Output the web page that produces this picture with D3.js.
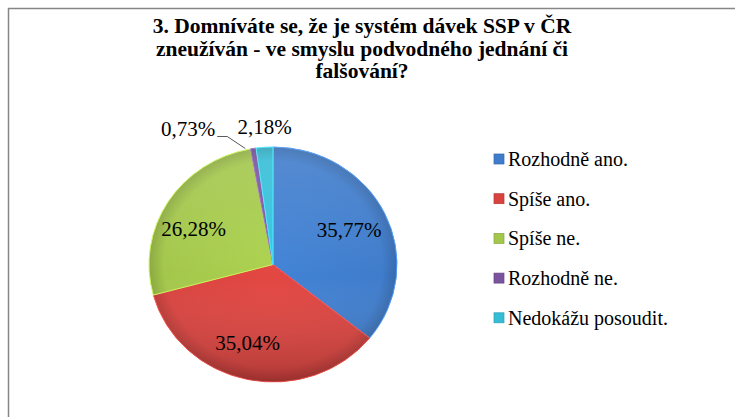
<!DOCTYPE html>
<html>
<head>
<meta charset="utf-8">
<script src="https://cdn.jsdelivr.net/npm/d3@7"></script>
</head>
<body style="margin:0">
<div id="c"></div>
<script>
const titleLines = ["3. Domníváte se, že je systém dávek SSP v ČR", "zneužíván - ve smyslu podvodného jednání či", "falšování?"];
const categories = ["Rozhodně ano.", "Spíše ano.", "Spíše ne.", "Rozhodně ne.", "Nedokážu posoudit."];
const values = [35.77, 35.04, 26.28, 0.73, 2.18];
const valueLabels = ["35,77%", "35,04%", "26,28%", "0,73%", "2,18%"];
const colors = ["#3f7ccb", "#d8433f", "#a3c74b", "#7b539e", "#35bdd6"];

const FONT = "'Liberation Serif', 'Times New Roman', serif";
const W = 735, H = 417;
const svg = d3.select("#c").append("svg").attr("width", W).attr("height", H)
    .style("font-family", FONT, "important");

// frame (only top/left edges visible in the crop)
svg.append("rect")
    .attr("x", 8.5).attr("y", 8.5)
    .attr("width", W + 20).attr("height", H + 20)
    .attr("fill", "#fff").attr("stroke", "#868686").attr("stroke-width", 1.5);

// title
svg.selectAll("text.title").data(titleLines).enter().append("text")
    .attr("class", "title")
    .attr("x", 362)
    .attr("y", function(d, i) { return 33 + i * 22.7; })
    .attr("text-anchor", "middle")
    .style("font-family", FONT, "important")
    .attr("font-weight", "bold")
    .attr("font-size", 21.5)
    .attr("fill", "#000")
    .text(function(d) { return d; });

let cx = 273, cy = 264.5, rx = 124, ry = 117.5;
let sy = ry / rx;

let defs = svg.append("defs");
colors.forEach(function(c, i) {
  let g = defs.append("radialGradient").attr("id", "grad" + i)
    .attr("gradientUnits", "userSpaceOnUse")
    .attr("cx", 0).attr("cy", 0).attr("r", rx);
  g.append("stop").attr("offset", "0%").attr("stop-color", d3.color(c).brighter(0.15));
  g.append("stop").attr("offset", "88%").attr("stop-color", c);
  g.append("stop").attr("offset", "100%").attr("stop-color", d3.color(c).darker(0.45));
});
let shade = defs.append("linearGradient").attr("id", "shade")
  .attr("x1", 0).attr("y1", 0).attr("x2", 0).attr("y2", 1);
shade.append("stop").attr("offset", "0%").attr("stop-color", "#fff").attr("stop-opacity", 0.12);
shade.append("stop").attr("offset", "55%").attr("stop-color", "#fff").attr("stop-opacity", 0);
shade.append("stop").attr("offset", "100%").attr("stop-color", "#000").attr("stop-opacity", 0.18);

let pie = d3.pie().sort(null).value(function(d) { return d; });
let arcs = pie(values);
let arc = d3.arc().innerRadius(0).outerRadius(rx);

let g = svg.append("g").attr("transform", "translate(" + cx + "," + cy + ") scale(1," + sy + ")");
g.selectAll("path.slice").data(arcs).enter().append("path")
    .attr("class", "slice")
    .attr("d", arc)
    .attr("fill", function(d, i) { return "url(#grad" + i + ")"; })
    .attr("stroke", function(d, i) { return d3.color(colors[i]).brighter(0.6); })
    .attr("stroke-width", 1)
    .attr("vector-effect", "non-scaling-stroke");
g.append("circle").attr("r", rx).attr("fill", "url(#shade)");

// labels inside
let labelArc = d3.arc().innerRadius(rx * 0.68).outerRadius(rx * 0.68);
let inside = arcs.filter(function(d) { return d.value > 5; });
svg.append("g").selectAll("text").data(inside).enter().append("text")
    .attr("x", function(d) { return cx + labelArc.centroid(d)[0] - (d.index === 0 ? 0 : 8); })
    .attr("y", function(d) { return cy + labelArc.centroid(d)[1] * sy + (d.index === 2 ? 14 : 7); })
    .attr("text-anchor", "middle")
    .style("font-family", FONT, "important")
    .attr("font-size", 21)
    .attr("fill", "#000")
    .text(function(d) { return valueLabels[d.index]; });

// small slices: labels outside above the pie
function edgePoint(d) {
  let a = (d.startAngle + d.endAngle) / 2;
  return [cx + Math.sin(a) * rx, cy - Math.cos(a) * ry];
}
let purple = arcs[3], cyan = arcs[4];
let pp = edgePoint(purple);
svg.append("polyline")
    .attr("points", [[pp[0] - 8, pp[1]], [pp[0] - 26, pp[1] - 12], [pp[0] - 36, pp[1] - 12]].join(" "))
    .attr("fill", "none").attr("stroke", "#595959").attr("stroke-width", 1);
svg.append("text")
    .attr("x", pp[0] - 38).attr("y", pp[1] - 12)
    .attr("text-anchor", "end")
    .style("font-family", FONT, "important")
    .attr("font-size", 21)
    .text(valueLabels[3]);
let cp = edgePoint(cyan);
svg.append("text")
    .attr("x", cp[0]).attr("y", cp[1] - 13)
    .attr("text-anchor", "middle")
    .style("font-family", FONT, "important")
    .attr("font-size", 21)
    .text(valueLabels[4]);

// legend
let legend = svg.append("g").attr("transform", "translate(494,0)");
let items = legend.selectAll("g").data(categories).enter().append("g")
    .attr("transform", function(d, i) { return "translate(0," + (159 + i * 39.7) + ")"; });
items.append("rect")
    .attr("x", 0).attr("y", -5).attr("width", 10).attr("height", 10)
    .attr("fill", function(d, i) { return colors[i]; })
    .attr("stroke", function(d, i) { return d3.color(colors[i]).darker(0.5); })
    .attr("stroke-width", 0.7);
items.append("text")
    .attr("x", 14).attr("y", 7)
    .style("font-family", FONT, "important")
    .attr("font-size", 20)
    .attr("fill", "#000")
    .text(function(d) { return d; });
</script>
</body>
</html>
